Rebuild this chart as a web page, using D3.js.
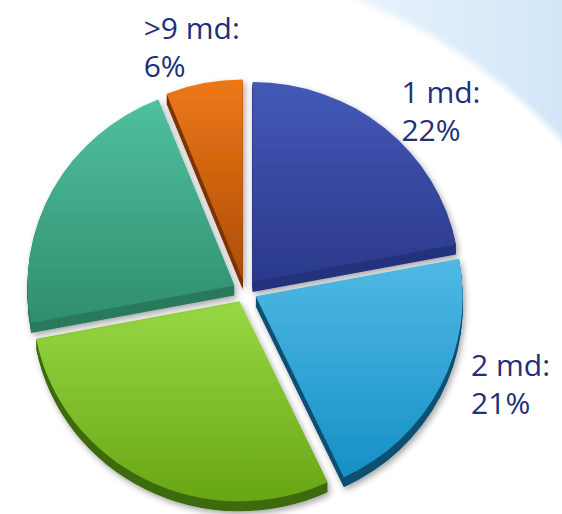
<!DOCTYPE html>
<html>
<head>
<meta charset="utf-8">
<script src="https://cdn.jsdelivr.net/npm/d3@7/dist/d3.min.js"></script>
<style>
  html, body { margin: 0; padding: 0; background: #ffffff; }
  svg { display: block; }
</style>
</head>
<body>
<svg id="chart" width="562" height="514"></svg>
<script>
// Share of cases by number of days (md)
const categories = ["1 md", "2 md", "3-5 md", "6-9 md", ">9 md"];
const shares = [22, 21, 29, 22, 6];
const showLabel = [true, true, false, false, true];

// Slice colours: lit top, shaded bottom, side wall
const topColors = ["#4459b8", "#50b9e4", "#98d843", "#50c09e", "#ee7818"];
const bottomColors = ["#2a398a", "#1590c6", "#68a616", "#2e8e6f", "#ad4d06"];
const sideColors = ["#24327c", "#0f5172", "#3e6c10", "#2a7a5d", "#7c3505"];

const W = 562, H = 514;
const cx = 245, cy = 291;      // pie centre
const rx = 207, ry = 200;      // slightly tilted disc
const sy = ry / rx;
const depth = 10;              // thickness of the disc
const explode = 12;            // distance each slice is pulled out
const textColor = "#213079";

const svg = d3.select("#chart");
const defs = svg.append("defs");

// background: pale blue sweep in the upper right
const bg = defs.append("linearGradient").attr("id", "bgGrad")
  .attr("x1", "0").attr("y1", "0").attr("x2", "1").attr("y2", "0");
bg.append("stop").attr("offset", "0").attr("stop-color", "#eef6fd");
bg.append("stop").attr("offset", "1").attr("stop-color", "#d2e6f8");
const bgBlur = defs.append("filter").attr("id", "soft")
  .attr("x", "-10%").attr("y", "-10%").attr("width", "120%").attr("height", "120%");
bgBlur.append("feGaussianBlur").attr("stdDeviation", 3);

svg.append("rect").attr("x", 300).attr("y", 0).attr("width", W - 300).attr("height", 200)
  .attr("fill", "url(#bgGrad)");
svg.append("circle").attr("cx", 150).attr("cy", 520).attr("r", 560)
  .attr("fill", "#ffffff").attr("filter", "url(#soft)");

// drop shadow for slices
const shadow = defs.append("filter").attr("id", "shadow")
  .attr("x", "-20%").attr("y", "-20%").attr("width", "140%").attr("height", "140%");
shadow.append("feDropShadow").attr("dx", 2).attr("dy", 3)
  .attr("stdDeviation", 3).attr("flood-color", "#000").attr("flood-opacity", 0.35);

topColors.forEach((c, i) => {
  const g = defs.append("linearGradient").attr("id", "top" + i)
    .attr("x1", "0").attr("y1", "0").attr("x2", "0").attr("y2", "1");
  g.append("stop").attr("offset", "0").attr("stop-color", c);
  g.append("stop").attr("offset", "1").attr("stop-color", bottomColors[i]);
});

const pie = d3.pie().sort(null).value(d => d);
const arcs = pie(shares);
const arc = d3.arc().innerRadius(0).outerRadius(rx);

const slices = svg.append("g").selectAll("g.slice")
  .data(arcs)
  .join("g")
  .attr("class", "slice")
  .attr("filter", "url(#shadow)")
  .attr("transform", d => {
    const m = (d.startAngle + d.endAngle) / 2;
    return `translate(${cx + Math.sin(m) * explode},${cy - Math.cos(m) * explode * sy})`;
  });

// side wall: stacked copies of the slice, shifted downward
slices.each(function (d, i) {
  const g = d3.select(this);
  for (let k = depth; k >= 1; k--) {
    g.append("path")
      .attr("transform", `translate(0,${k}) scale(1,${sy})`)
      .attr("d", arc(d))
      .attr("fill", sideColors[i]);
  }
  g.append("path")
    .attr("transform", `scale(1,${sy})`)
    .attr("d", arc(d))
    .attr("fill", `url(#top${i})`);
});

// labels placed just outside each slice's mid-angle
const labelNudge = [[-1, -3], [6, -24], null, null, [-55, -16]];
const labels = svg.append("g")
  .attr("font-family", "'Open Sans', 'Noto Sans', sans-serif")
  .attr("font-size", 30)
  .attr("fill", textColor);

arcs.forEach((d, i) => {
  if (!showLabel[i]) return;
  const m = (d.startAngle + d.endAngle) / 2;
  const px = cx + (rx + 40) * Math.sin(m) + labelNudge[i][0];
  const py = cy - (ry + 40) * Math.cos(m) + labelNudge[i][1];
  const t = labels.append("text").attr("x", px).attr("y", py);
  t.append("tspan").attr("x", px).attr("y", py).text(categories[i] + ":");
  t.append("tspan").attr("x", px).attr("dy", 38).text(shares[i] + "%");
});
</script>
</body>
</html>
